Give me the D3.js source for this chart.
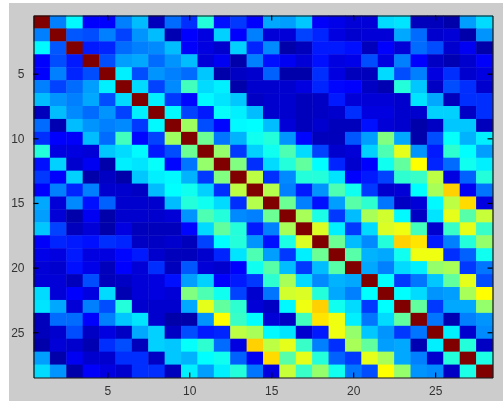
<!DOCTYPE html>
<meta charset="utf-8">
<script src="https://d3js.org/d3.v7.min.js"></script>
<style>
	html,body{margin:0;padding:0;background:#fff;overflow:hidden;}
	svg{display:block;filter:blur(0.45px);}
	text{font-family:'Liberation Sans',sans-serif;font-size:12px;fill:#333;}
</style>
<div id="chart"></div>
<script>
	// upper triangle of the matrix, each row starts at the diagonal
	var upper = [
		[1,.25,.37,.125,.125,.25,.31,.05,.23,.17,.41,.14,.18,.125,.29,.28,.32,.12,.10,.08,.08,.34,.35,.05,.05,.03,.28,.34],
		[1,.21,.2,.25,.19,.27,.31,.04,.125,.09,.33,.125,.25,.08,.08,.19,.16,.09,.07,.08,.08,.29,.23,.07,.08,.03,.27],
		[1,.15,.16,.23,.25,.26,.31,.12,.09,.07,.33,.16,.26,.03,.05,.15,.15,.14,.05,.125,.08,.23,.2,.07,.11,.03],
		[1,.2,.28,.29,.23,.27,.31,.08,.11,.03,.25,.14,.11,.08,.14,.09,.1,.2,.09,.25,.125,.06,.04,.07,.12],
		[1,.36,.2,.27,.25,.23,.32,.03,.06,.07,.22,.03,.03,.17,.09,.05,.05,.34,.2,.25,.09,.17,.07,.09],
		[1,.34,.19,.26,.44,.34,.36,.03,.07,.07,.07,.09,.16,.13,.125,.06,.04,.41,.32,.06,.2,.17,.07],
		[1,.36,.18,.13,.37,.35,.32,.06,.07,.07,.05,.06,.15,.08,.08,.08,.07,.35,.29,.05,.17,.17],
		[1,.37,.19,.15,.38,.36,.31,.07,.07,.05,.06,.07,.17,.09,.09,.07,.07,.33,.33,.06,.17],
		[1,.53,.2,.13,.37,.375,.31,.08,.05,.07,.05,.05,.14,.08,.07,.03,.06,.32,.32,.05],
		[1,.48,.24,.3,.39,.41,.27,.13,.05,.05,.21,.28,.5,.29,.03,.2,.38,.3,.36],
		[1,.52,.18,.33,.39,.45,.34,.19,.07,.08,.33,.45,.6,.27,.15,.42,.375,.28],
		[1,.5,.17,.34,.41,.47,.375,.16,.07,.125,.39,.47,.625,.16,.23,.39,.36],
		[1,.56,.17,.26,.41,.41,.35,.125,.15,.19,.42,.43,.56,.09,.22,.41],
		[1,.55,.25,.15,.27,.45,.39,.18,.07,.08,.375,.54,.67,.11,.24],
		[1,.48,.25,.14,.28,.46,.42,.24,.06,.08,.37,.56,.66,.09],
		[1,.54,.4,.18,.31,.54,.58,.37,.06,.35,.6,.46,.57],
		[1,.59,.36,.18,.34,.59,.61,.44,.07,.43,.6,.43],
		[1,.48,.31,.26,.41,.67,.65,.15,.25,.41,.52],
		[1,.46,.3,.29,.39,.61,.61,.17,.22,.39],
		[1,.29,.25,.34,.36,.52,.54,.18,.24],
		[1,.375,.18,.24,.32,.47,.6,.2],
		[1,.375,.34,.27,.28,.54,.625],
		[1,.47,.18,.29,.29,.52],
		[1,.24,.04,.25,.27],
		[1,.36,.07,.26],
		[1,.41,.06],
		[1,.4],
		[1]
	]
	var tickVals = [5,10,15,20,25]

	var w = 504
	var h = 401
	var left = 33.5
	var right = 492.5
	var top_ = 15.5
	var bottom = 377.5

	var n = upper.length
	var cells = []
	upper.forEach(function(row,i){
		row.forEach(function(v,k){
			cells.push({r:i+1,c:i+k+1,v:v})
			if(k>0){cells.push({r:i+k+1,c:i+1,v:v})}
		})
	})

	var xScale = d3.scaleLinear().domain([0.5,n+0.5]).range([left,right])
	var yScale = d3.scaleLinear().domain([0.5,n+0.5]).range([top_,bottom])
	// jet
	var color = d3.scaleLinear()
		.domain([0,.125,.375,.625,.875,1])
		.range(["#00008f","#0000ff","#00ffff","#ffff00","#ff0000","#800000"])

	var svg = d3.select("#chart").append("svg").attr("width",w).attr("height",h)
	svg.append("rect").attr("x",9).attr("y",3).attr("width",w-10).attr("height",h+5).attr("fill","#cccccc")

	svg.selectAll(".cell")
		.data(cells)
		.enter()
		.append("rect")
		.attr("class","cell")
		.attr("x",function(d){return xScale(d.c-.5)})
		.attr("y",function(d){return yScale(d.r-.5)})
		.attr("width",xScale(2)-xScale(1)+.4)
		.attr("height",yScale(2)-yScale(1)+.4)
		.attr("fill",function(d){return color(d.v)})

	function styleAxis(g){
		g.select(".domain").attr("stroke","#111").attr("stroke-width",1.2)
		g.selectAll("line").attr("stroke","#000").attr("stroke-width",1.2)
		g.selectAll("text").attr("fill","#333")
	}
	var fmt = d3.format("d")
	svg.append("g").attr("transform","translate(0,"+bottom+")")
		.call(d3.axisBottom(xScale).tickValues(tickVals).tickFormat(fmt).tickSizeInner(-5).tickSizeOuter(0).tickPadding(9))
		.call(styleAxis)
	svg.append("g").attr("transform","translate(0,"+top_+")")
		.call(d3.axisTop(xScale).tickValues(tickVals).tickFormat("").tickSizeInner(-5).tickSizeOuter(0))
		.call(styleAxis)
	svg.append("g").attr("transform","translate("+left+",0)")
		.call(d3.axisLeft(yScale).tickValues(tickVals).tickFormat(fmt).tickSizeInner(-5).tickSizeOuter(0).tickPadding(9))
		.call(styleAxis)
	svg.append("g").attr("transform","translate("+right+",0)")
		.call(d3.axisRight(yScale).tickValues(tickVals).tickFormat("").tickSizeInner(-5).tickSizeOuter(0))
		.call(styleAxis)
	svg.selectAll("text").style("font-size","12px")
</script>
